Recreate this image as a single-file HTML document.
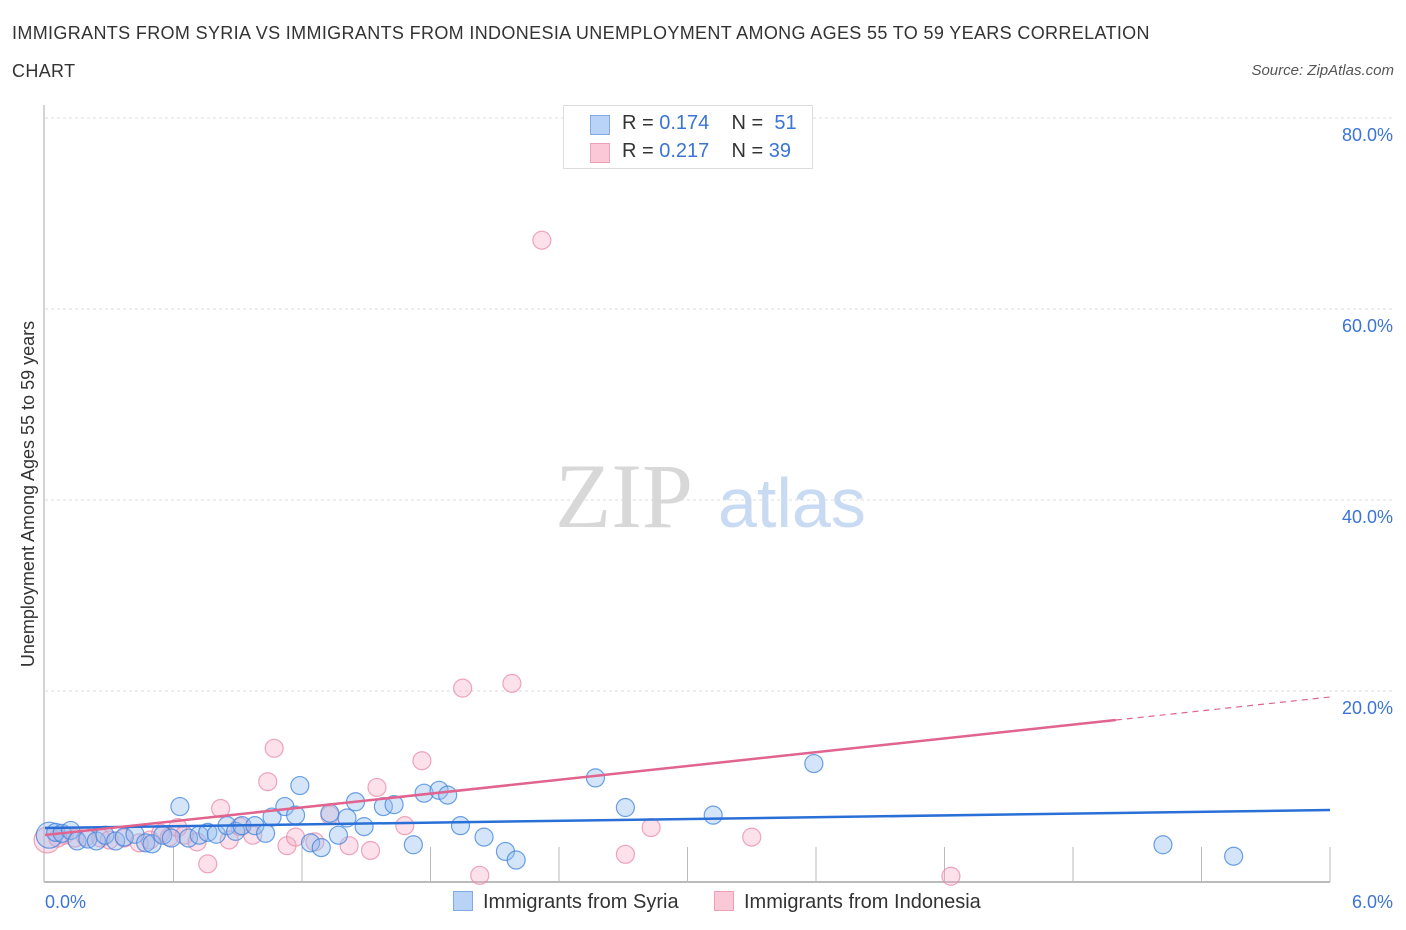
<!DOCTYPE html>
<html><head><meta charset="utf-8"><style>
body{margin:0;background:#fff;font-family:"Liberation Sans",sans-serif;}
#wrap{position:relative;width:1406px;height:930px;}
.t{position:absolute;white-space:nowrap;}
</style></head><body>
<div id="wrap">
<div class="t" style="left:12px;top:14px;font-size:18px;color:#333;line-height:38px;letter-spacing:0.35px;">IMMIGRANTS FROM SYRIA VS IMMIGRANTS FROM INDONESIA UNEMPLOYMENT AMONG AGES 55 TO 59 YEARS CORRELATION<br>CHART</div>
<div class="t" style="right:12px;top:62px;font-size:15px;color:#555;font-style:italic;">Source: ZipAtlas.com</div>
<svg id="plot" width="1406" height="930" style="position:absolute;left:0;top:0"></svg>
</div>
<script>
const xTicksPct=[0,6];
const yTicks=[20,40,60,80];
const syriaX=[0.02,0.05,0.08,0.12,0.15,0.2,0.24,0.28,0.33,0.37,0.42,0.47,0.50,0.55,0.59,0.63,0.67,0.72,0.76,0.80,0.85,0.89,0.92,0.98,1.03,1.06,1.12,1.17,1.19,1.24,1.29,1.33,1.37,1.41,1.45,1.49,1.58,1.63,1.72,1.77,1.84,1.88,1.94,2.05,2.15,2.20,2.57,2.71,3.12,3.59,5.22,5.55];
const syriaY=[4.9,5.2,5.1,5.4,4.3,4.5,4.3,4.9,4.3,4.7,5.0,4.1,4.0,4.9,4.6,7.9,4.6,4.9,5.2,5.0,5.9,5.3,5.9,5.9,5.1,6.8,7.9,7.0,10.1,4.1,3.6,7.2,4.9,6.7,8.4,5.8,7.9,8.1,3.9,9.3,9.6,9.1,5.9,4.7,3.2,2.3,10.9,7.8,7.0,12.4,3.9,2.7];
const indoX=[0.01,0.06,0.09,0.14,0.19,0.26,0.30,0.37,0.44,0.49,0.54,0.58,0.62,0.65,0.71,0.76,0.82,0.86,0.91,0.97,1.04,1.07,1.13,1.17,1.26,1.33,1.42,1.52,1.55,1.68,1.76,1.95,2.03,2.18,2.32,2.71,2.83,3.30,4.23];
const indoY=[4.4,4.6,4.9,4.6,4.7,4.6,4.4,4.6,4.1,4.4,5.1,4.7,5.7,4.9,4.2,1.9,7.7,4.4,5.8,4.9,10.5,14.0,3.8,4.7,4.2,7.0,3.8,3.3,9.9,5.9,12.7,20.3,0.7,20.8,67.2,2.9,5.7,4.7,0.6];
const syriaLine=[5.65,7.54];
const indoLine=[4.92,19.37];
const indoSolidEnd=5.0;

const NS="http://www.w3.org/2000/svg";
const svg=document.getElementById('plot');
const X0=45,X1=1330,Y0=882,PPY=9.55;
const sx=v=>X0+(v/6)*(X1-X0);
const sy=v=>Y0-v*PPY;
function mk(tag,attrs,parent){const e=document.createElementNS(NS,tag);for(const k in attrs)e.setAttribute(k,attrs[k]);(parent||svg).appendChild(e);return e;}

yTicks.forEach(v=>{
  const g=mk('line',{x1:X0,x2:1395,y1:sy(v),y2:sy(v),stroke:'#ddd','stroke-dasharray':'3,3'});
  
  
  const t=mk('text',{x:1393,y:sy(v)+23,'text-anchor':'end','font-size':18,fill:'#3b74d6','font-family':'Liberation Sans, sans-serif'});
  t.textContent=v.toFixed(1)+'%';
  
  
});
const ax=mk('line',{x1:X0-1,x2:X0-1,y1:105,y2:Y0,stroke:'#aaa'});


const bx=mk('line',{x1:X0-1,x2:X1,y1:Y0,y2:Y0,stroke:'#bbb','stroke-width':2});


for(let i=1;i<=10;i++){
  const tk=mk('line',{x1:sx(i*0.6),x2:sx(i*0.6),y1:Y0,y2:Y0-35,stroke:'#bbb'});
  
  
}
xTicksPct.forEach((v,i)=>{
  const t=mk('text',{x:i?1393:45,y:908,'text-anchor':i?'end':'start','font-size':18,fill:'#3b74d6','font-family':'Liberation Sans, sans-serif'});
  t.textContent=v.toFixed(1)+'%';
  
  
});
const wm=mk('text',{x:555,y:527,'font-size':92,fill:'#d8d8d8','font-family':'Liberation Serif, serif'});
wm.textContent='ZIP';


const wm2=mk('text',{x:718,y:527,'font-size':70,fill:'#c9daf3','font-family':'Liberation Sans, sans-serif'});
wm2.textContent='atlas';


const yt=mk('text',{transform:'translate(34,494) rotate(-90)','text-anchor':'middle','font-size':18,fill:'#333','font-family':'Liberation Sans, sans-serif'});
yt.textContent='Unemployment Among Ages 55 to 59 years';



function dots(xs,ys,fill,stroke,name){
  xs.forEach((x,i)=>{
    const c=mk('circle',{cx:sx(x),cy:sy(ys[i]),r:(i==0?13:9),fill:fill,stroke:stroke,'stroke-width':1.2});
    
    
  });
}
dots(indoX,indoY,'rgba(246,170,195,0.35)','rgba(232,130,160,0.7)','indonesia-point');
dots(syriaX,syriaY,'rgba(150,190,240,0.4)','rgba(60,130,220,0.75)','syria-point');
const l1=mk('line',{x1:sx(0),y1:sy(syriaLine[0]),x2:sx(6),y2:sy(syriaLine[1]),stroke:'#2a6fd6','stroke-width':2.5});


const py=x=>indoLine[0]+(indoLine[1]-indoLine[0])*x/6;
const l2=mk('line',{x1:sx(0),y1:sy(py(0)),x2:sx(indoSolidEnd),y2:sy(py(indoSolidEnd)),stroke:'#e0648e','stroke-width':2.5});


const l3=mk('line',{x1:sx(indoSolidEnd),y1:sy(py(indoSolidEnd)),x2:sx(6),y2:sy(py(6)),stroke:'#e0648e','stroke-width':1.2,'stroke-dasharray':'6,5'});


</script>
<div class="t" style="left:563px;top:105px;width:248px;height:62px;border:1px solid #ddd;background:#fff;font-size:20px;color:#333;">
  <div style="position:absolute;left:26px;top:9px;width:20px;height:20px;background:#b8d3f5;border:1px solid #7faae6;box-sizing:border-box;"></div>
  <div style="position:absolute;left:58px;top:6px;">R = <span style="color:#3b74d6">0.174</span>&nbsp;&nbsp;&nbsp; N = &nbsp;<span style="color:#3b74d6">51</span></div>
  <div style="position:absolute;left:26px;top:37px;width:20px;height:20px;background:#fac8d6;border:1px solid #eea0b8;box-sizing:border-box;"></div>
  <div style="position:absolute;left:58px;top:34px;">R = <span style="color:#3b74d6">0.217</span>&nbsp;&nbsp;&nbsp; N = <span style="color:#3b74d6">39</span></div>
</div>
<div class="t" style="left:453px;top:891px;font-size:20px;color:#333;">
  <span style="display:inline-block;width:20px;height:20px;background:#b8d3f5;border:1px solid #7faae6;box-sizing:border-box;vertical-align:-3px;margin-right:10px;"></span>Immigrants from Syria</div>
<div class="t" style="left:714px;top:891px;font-size:20px;color:#333;">
  <span style="display:inline-block;width:20px;height:20px;background:#fac8d6;border:1px solid #eea0b8;box-sizing:border-box;vertical-align:-3px;margin-right:10px;"></span>Immigrants from Indonesia</div>
</body></html>
